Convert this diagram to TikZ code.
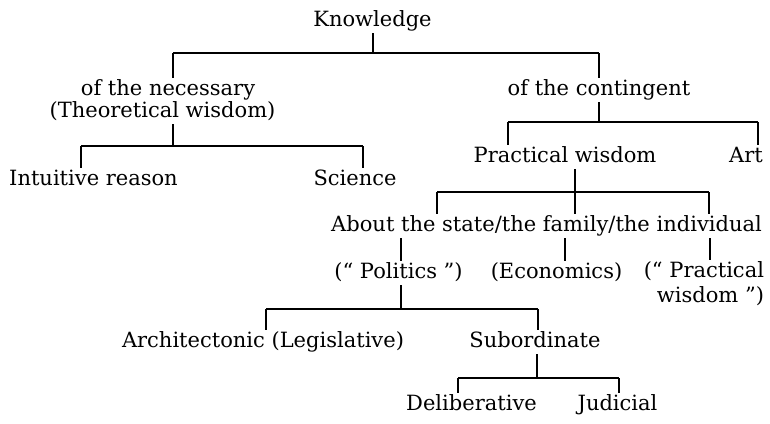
\documentclass[tikz,border=0pt]{standalone}
\usepackage{fontspec}
\setmainfont{DejaVu Serif}
\begin{document}
\begin{tikzpicture}[x=0.5pt,y=-0.5pt,
  lbl/.style={inner sep=0pt, outer sep=1pt, anchor=base,
    font=\fontsize{10.5}{12}\selectfont, text height=0.75em, text depth=0.25em},
  lblr/.style={lbl, anchor=base east},
  conn/.style={line width=1pt}]
\useasboundingbox (0,0) rectangle (770,423);

% ---- labels ----
\node[lbl] (know) at (372.5,26) {Knowledge};
\node[lbl] (nec1) at (168,95) {of the necessary};
\node[lbl] (nec2) at (162.5,117) {(Theoretical wisdom)};
\node[lbl] (cont) at (599,95) {of the contingent};
\node[lbl] (intu) at (93.5,185) {Intuitive reason};
\node[lbl] (sci) at (355,185) {Science};
\node[lbl] (pw) at (565,162) {Practical wisdom};
\node[lbl] (art) at (746,162) {Art};
\node[lbl] (about) at (546.5,231) {About the state/the family/the individual};
\node[lbl] (pol) at (398.5,278) {(“ Politics ”)};
\node[lbl] (eco) at (556.5,278) {(Economics)};
\node[lblr] (prac1) at (766,277) {(“ Practical};
\node[lblr] (prac2) at (766,302) {wisdom ”)};
\node[lbl] (arch) at (263,347) {Architectonic (Legislative)};
\node[lbl] (sub) at (535,347) {Subordinate};
\node[lbl] (del) at (471.5,410) {Deliberative};
\node[lbl] (jud) at (617.5,410) {Judicial};

% ---- junctions ----
\coordinate (k-bar) at (373,53);
\coordinate (k-l) at (173,53);
\coordinate (k-r) at (599,53);
\coordinate (t-bar) at (173,146);
\coordinate (t-l) at (81,146);
\coordinate (t-r) at (363,146);
\coordinate (c-bar) at (599,122);
\coordinate (c-l) at (508,122);
\coordinate (c-r) at (758,122);
\coordinate (p-l) at (437,192);
\coordinate (p-m) at (575,192);
\coordinate (p-r) at (709,192);
\coordinate (a-1) at (401,0);
\coordinate (a-2) at (565,0);
\coordinate (a-3) at (710,0);
\coordinate (po-bar) at (401,309);
\coordinate (po-l) at (266,309);
\coordinate (po-r) at (538,309);
\coordinate (s-bar) at (537,378);
\coordinate (s-l) at (458,378);
\coordinate (s-r) at (619,378);

% ---- connectors ----
% Knowledge
\draw[conn] (know.south -| k-bar) -- (k-bar);
\draw[conn] (k-l) -- (k-r);
\draw[conn] (k-l) -- (k-l |- nec1.north);
\draw[conn] (k-r) -- (k-r |- cont.north);
% Theoretical wisdom
\draw[conn] (nec2.south -| t-bar) -- (t-bar);
\draw[conn] (t-l) -- (t-r);
\draw[conn] (t-l) -- (t-l |- intu.north);
\draw[conn] (t-r) -- (t-r |- sci.north);
% contingent
\draw[conn] (cont.south -| c-bar) -- (c-bar);
\draw[conn] (c-l) -- (c-r);
\draw[conn] (c-l) -- (c-l |- pw.north);
\draw[conn] (c-r) -- (c-r |- art.north);
% Practical wisdom
\draw[conn] (pw.south -| p-m) -- (p-m);
\draw[conn] (p-l) -- (p-r);
\draw[conn] (p-l) -- (p-l |- about.north);
\draw[conn] (p-m) -- (p-m |- about.north);
\draw[conn] (p-r) -- (p-r |- about.north);
% About ...
\draw[conn] (about.south -| a-1) -- (pol.north -| a-1);
\draw[conn] (about.south -| a-2) -- (eco.north -| a-2);
\draw[conn] (about.south -| a-3) -- (prac1.north -| a-3);
% Politics
\draw[conn] (pol.south -| po-bar) -- (po-bar);
\draw[conn] (po-l) -- (po-r);
\draw[conn] (po-l) -- (po-l |- arch.north);
\draw[conn] (po-r) -- (po-r |- sub.north);
% Subordinate
\draw[conn] (sub.south -| s-bar) -- (s-bar);
\draw[conn] (s-l) -- (s-r);
\draw[conn] (s-l) -- (s-l |- del.north);
\draw[conn] (s-r) -- (s-r |- jud.north);
\end{tikzpicture}
\end{document}
